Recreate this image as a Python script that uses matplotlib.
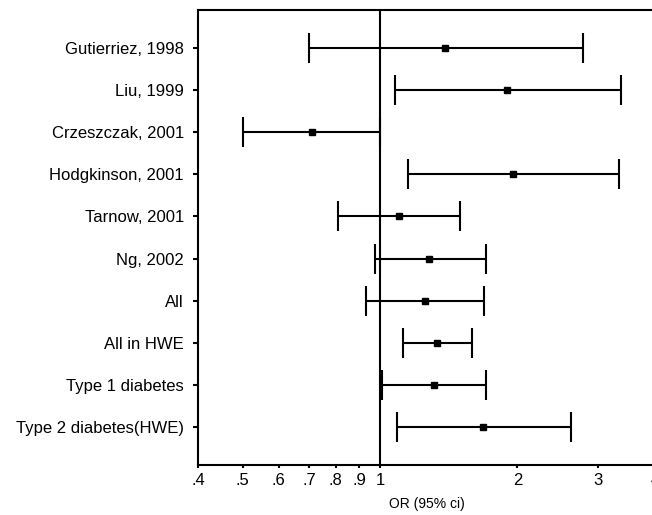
import numpy as np
import matplotlib
matplotlib.use('Agg')
import matplotlib.pyplot as plt

plt.rcParams['font.family'] = ['Liberation Sans', 'DejaVu Sans']

# study labels, top to bottom
studies = ['Gutierriez, 1998', 'Liu, 1999', 'Crzeszczak, 2001', 'Hodgkinson, 2001',
           'Tarnow, 2001', 'Ng, 2002', 'All', 'All in HWE', 'Type 1 diabetes',
           'Type 2 diabetes(HWE)']
# odds ratio and 95% ci
odds = [1.39, 1.90, 0.71, 1.96, 1.10, 1.28, 1.255, 1.33, 1.31, 1.68]
ci_low = [0.70, 1.08, 0.50, 1.15, 0.81, 0.975, 0.93, 1.125, 1.01, 1.09]
ci_high = [2.79, 3.37, 1.0, 3.34, 1.50, 1.71, 1.69, 1.59, 1.71, 2.62]

tick_vals = [0.4, 0.5, 0.6, 0.7, 0.8, 0.9, 1, 2, 3, 4]
tick_text = ['.4', '.5', '.6', '.7', '.8', '.9', '1', '2', '3', '4']

fig = plt.figure(figsize=(6.52, 5.15), dpi=100)
# axes run a little past the right edge, as in the original crop
ax = fig.add_axes([0.3042, 0.0971, 0.7003, 0.8835])

ypos = np.arange(1, len(studies) + 1)
odds = np.array(odds)
xerr = np.array([odds - np.array(ci_low), np.array(ci_high) - odds])

ax.axvline(1, color='black', lw=1.5, zorder=1)
ax.errorbar(odds, ypos, xerr=xerr, fmt='s', color='black', ms=5,
            elinewidth=1.5, capsize=11, capthick=1.5, zorder=3)

ax.set_xscale('log')
ax.set_xlim(0.4, 4)
ax.set_ylim(10.905, 0.095)
ax.xaxis.set_minor_locator(matplotlib.ticker.NullLocator())
ax.set_xticks(tick_vals)
ax.set_xticklabels(tick_text)
ax.set_yticks(ypos)
ax.set_yticklabels(studies)

ax.tick_params(axis='y', length=3.5, width=1.5, pad=7, labelsize=12)
ax.tick_params(axis='x', length=2.5, width=1.5, pad=3, labelsize=12)
for s in ax.spines.values():
    s.set_linewidth(1.5)

ax.set_xlabel('OR (95% ci)', fontsize=10, labelpad=7)

fig.savefig('out.png', dpi=100)
